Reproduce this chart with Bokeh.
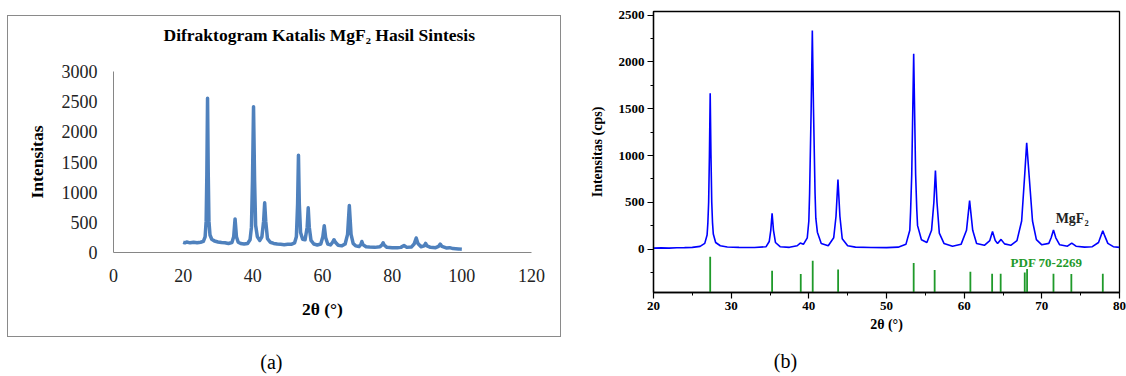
from bokeh.plotting import figure
from bokeh.layouts import row, column
from bokeh.models import Label, FixedTicker, Range1d, Spacer, Title
from bokeh.embed import file_html
from bokeh.resources import INLINE

# ---------------- Panel (a): Excel-style diffractogram ----------------
a_theta = [20.0, 20.5, 21.0, 22.0, 23.0, 24.0, 25.0, 25.8, 26.3, 26.6, 26.8, 27.0, 27.2, 27.4, 27.7,
           28.2, 29.0, 30.0, 31.0, 32.0, 33.0, 34.0, 34.5, 34.9, 35.3, 35.8, 36.5, 37.5, 38.5,
           39.2, 39.6, 39.9, 40.2, 40.5, 40.8, 41.3, 42.0, 42.6, 43.1, 43.4, 43.7, 44.2, 45.0,
           46.0, 47.0, 48.0, 49.0, 50.0, 51.0, 52.0, 52.5, 52.85, 53.1, 53.35, 53.7, 54.3, 55.0,
           55.6, 55.9, 56.2, 56.7, 57.5, 58.5, 59.5, 60.1, 60.5, 60.9, 61.5, 62.3, 62.9, 63.3,
           63.7, 64.5, 65.5, 66.5, 67.2, 67.7, 68.2, 68.8, 69.5, 70.5, 71.0, 71.3, 71.6, 72.5,
           73.5, 75.0, 76.5, 77.1, 77.4, 77.7, 78.5, 80.0, 81.5, 82.5, 83.4, 84.2, 85.5, 86.3,
           86.9, 87.4, 88.3, 89.2, 89.6, 90.0, 91.0, 92.5, 93.3, 93.8, 94.3, 95.5, 96.5, 97.5,
           99.0, 100.0]
a_intensity = [170, 160, 175, 160, 170, 160, 170, 185, 260, 520, 1300, 2556, 1300, 520, 290,
               220, 190, 175, 165, 160, 150, 165, 260, 556, 260, 170, 150, 140, 150,
               210, 420, 1200, 2417, 1200, 450, 260, 200, 260, 520, 823, 520, 230, 170,
               150, 140, 135, 130, 135, 135, 160, 260, 800, 1612, 800, 330, 220, 210,
               420, 740, 420, 200, 140, 125, 140, 260, 445, 250, 140, 125, 170, 212,
               170, 120, 110, 140, 300, 778, 300, 150, 110, 100, 130, 183, 130, 95,
               90, 85, 95, 130, 160, 125, 85, 80, 80, 85, 115, 85, 90, 140,
               240, 150, 95, 110, 150, 110, 85, 80, 100, 140, 100, 75, 80, 65,
               60, 55]
a_xticks = [0, 20, 40, 60, 80, 100, 120]
a_yticks = [0, 500, 1000, 1500, 2000, 2500, 3000]
a_title = "Difraktogram  Katalis MgF\u2082 Hasil Sintesis"

# ---------------- Panel (b): measured pattern + PDF 70-2269 ----------------
b_theta = [20.0, 21.0, 22.0, 23.0, 24.0, 25.0, 26.0, 26.6, 26.9, 27.0, 27.1, 27.2, 27.3, 27.4, 27.5,
           27.6, 27.7, 28.0, 28.6, 29.5, 31.0, 33.0, 34.5, 34.9, 35.1, 35.27, 35.45, 35.7, 36.3, 37.5,
           38.5, 38.9, 39.3, 39.8, 40.0, 40.1, 40.3, 40.45, 40.6, 40.8, 40.9, 41.1, 41.6, 42.5, 43.2, 43.5,
           43.75, 44.0, 44.3, 45.0, 46.0, 48.0, 50.0, 51.5, 52.5, 53.0, 53.1, 53.25, 53.5, 53.75, 53.9, 54.0,
           54.5, 55.2, 55.8, 56.1, 56.3, 56.5, 56.8, 57.4, 58.5, 59.6, 60.3, 60.7, 61.1, 61.6,
           62.6, 63.3, 63.65, 64.0, 64.3, 64.75, 65.2, 66.0, 66.8, 67.4, 67.8, 68.05, 68.35, 68.8,
           69.3, 70.0, 70.9, 71.2, 71.5, 71.8, 72.3, 73.3, 73.85, 74.4, 75.5, 76.5, 77.3, 77.6,
           77.85, 78.1, 78.5, 79.2, 80.0]
b_intensity = [10, 12, 10, 14, 15, 18, 28, 60, 150, 280, 500, 1000, 1666, 1000, 500,
               280, 160, 70, 35, 22, 18, 16, 25, 80, 200, 381, 200, 70, 25, 18,
               35, 64, 50, 120, 300, 600, 1500, 2337, 1500, 600, 330, 180, 60, 35, 120, 350,
               742, 350, 110, 35, 20, 16, 15, 20, 50, 200, 400, 800, 2088, 800, 420, 250,
               100, 70, 200, 500, 838, 500, 170, 60, 30, 50, 200, 517, 200, 60,
               40, 90, 188, 90, 60, 103, 55, 40, 90, 300, 800, 1135, 800, 300,
               100, 45, 60, 120, 203, 120, 45, 30, 64, 30, 20, 25, 70, 140,
               196, 140, 60, 25, 18]
pdf_theta = [27.3, 35.27, 38.96, 40.5, 43.77, 53.5, 56.2, 60.8, 63.6, 64.7, 67.8, 68.1, 71.5, 73.8, 77.85]
pdf_top = [-82, -232, -268, -125, -218, -150, -225, -243, -264, -264, -250, -214, -264, -268, -264]
b_xticks = [20, 30, 40, 50, 60, 70, 80]
b_xminor = [25, 35, 45, 55, 65, 75]
b_yticks = [0, 500, 1000, 1500, 2000, 2500]
b_yminor = [-250, 250, 750, 1250, 1750, 2250]

SERIF = "Liberation Serif"

# ---------- figure (a) ----------
pa = figure(width=554, height=322, output_backend="svg", toolbar_location=None,
            x_range=Range1d(0, 120), y_range=Range1d(0, 3000), title=None,
            min_border_left=104, min_border_right=30, min_border_top=55, min_border_bottom=86,
            styles={"border": "1px solid #8a8a8a"})
# spacer title (closest to the frame) then the real title
pa.add_layout(Title(text=" ", text_font_size="10px", standoff=12), "above")
pa.add_layout(Title(text=a_title, align="left", offset=50, standoff=4,
                    text_font=SERIF, text_font_style="bold", text_font_size="17.5px",
                    text_color="black"), "above")
pa.line(a_theta, a_intensity, line_color="#4F81BD", line_width=3.5, line_join="round")
pa.grid.visible = False
pa.outline_line_color = None
for ax in (pa.xaxis[0], pa.yaxis[0]):
    ax.axis_line_color = "#868686"
    ax.major_tick_line_color = None
    ax.minor_tick_line_color = None
    ax.major_tick_out = 0
    ax.major_tick_in = 0
    ax.minor_tick_out = 0
    ax.major_label_text_font = SERIF
    ax.major_label_text_font_size = "18px"
    ax.major_label_text_color = "#222222"
    ax.major_label_standoff = 16
    ax.axis_label_text_font = SERIF
    ax.axis_label_text_font_style = "bold"
    ax.axis_label_text_font_size = "17.5px"
    ax.axis_label_text_color = "black"
pa.xaxis.ticker = FixedTicker(ticks=a_xticks)
pa.yaxis.ticker = FixedTicker(ticks=a_yticks)
pa.xaxis.axis_label = "2\u03b8 (\u00b0)"
pa.yaxis.axis_label = "Intensitas"
pa.xaxis.axis_label_standoff = 14
pa.yaxis.axis_label_standoff = 12

cap_a = figure(width=556, height=37, output_backend="svg", toolbar_location=None,
               x_range=Range1d(0, 120), y_range=Range1d(0, 1),
               x_axis_type=None, y_axis_type=None,
               min_border_left=105, min_border_right=31, min_border_top=0, min_border_bottom=0)
cap_a.grid.visible = False
cap_a.outline_line_color = None
cap_a.add_layout(Label(x=45.4, y=0.34, text="(a)", text_align="center", text_baseline="middle",
                       text_font=SERIF, text_font_size="20px", text_color="black"))

# ---------- figure (b) ----------
pb = figure(width=563, height=340, output_backend="svg", toolbar_location=None,
            x_range=Range1d(20, 80), y_range=Range1d(-465, 2540),
            min_border_left=90, min_border_right=7, min_border_top=11, min_border_bottom=48)
pb.line(b_theta, b_intensity, line_color="#0000FF", line_width=1.6)
pb.segment(x0=pdf_theta, y0=[-465] * len(pdf_theta), x1=pdf_theta, y1=pdf_top,
           line_color="#1F9A2A", line_width=1.8)
pb.grid.visible = False
pb.outline_line_color = "black"
pb.outline_line_width = 1.3
for ax in (pb.xaxis[0], pb.yaxis[0]):
    ax.axis_line_color = "black"
    ax.axis_line_width = 1.3
    ax.major_tick_line_color = "black"
    ax.major_tick_line_width = 1.2
    ax.minor_tick_line_color = "black"
    ax.major_tick_out = 6
    ax.major_tick_in = 0
    ax.minor_tick_out = 3
    ax.minor_tick_in = 0
    ax.major_label_text_font = SERIF
    ax.major_label_text_font_style = "bold"
    ax.major_label_text_font_size = "13px"
    ax.major_label_text_color = "black"
    ax.axis_label_text_font = SERIF
    ax.axis_label_text_font_style = "bold"
    ax.axis_label_text_font_size = "14px"
    ax.axis_label_text_color = "black"
pb.xaxis.ticker = FixedTicker(ticks=b_xticks, minor_ticks=b_xminor)
pb.yaxis.ticker = FixedTicker(ticks=b_yticks, minor_ticks=b_yminor)
pb.xaxis.major_label_standoff = 3
pb.yaxis.major_label_standoff = 3
pb.xaxis.axis_label = "2\u03b8 (\u00b0)"
pb.yaxis.axis_label = "Intensitas (cps)"
pb.xaxis.axis_label_standoff = 4
pb.yaxis.axis_label_standoff = 11

pb.add_layout(Label(x=73.9, y=330, text="MgF\u2082", text_align="center", text_baseline="middle",
                    text_font=SERIF, text_font_style="bold", text_font_size="14px",
                    text_color="#222222"))
pb.add_layout(Label(x=70.6, y=-144, text="PDF 70-2269", text_align="center", text_baseline="middle",
                    text_font=SERIF, text_font_style="bold", text_font_size="13px",
                    text_color="#1F9A2A"))

cap_b = figure(width=563, height=36, output_backend="svg", toolbar_location=None,
               x_range=Range1d(20, 80), y_range=Range1d(0, 1),
               x_axis_type=None, y_axis_type=None,
               min_border_left=90, min_border_right=7, min_border_top=0, min_border_bottom=0)
cap_b.grid.visible = False
cap_b.outline_line_color = None
cap_b.add_layout(Label(x=37.0, y=0.42, text="(b)", text_align="center", text_baseline="middle",
                       text_font=SERIF, text_font_size="20px", text_color="black"))

layout = row(Spacer(width=7), column(Spacer(height=15), pa, cap_a), column(pb, cap_b))
open("out.html", "w").write(file_html(layout, INLINE))
